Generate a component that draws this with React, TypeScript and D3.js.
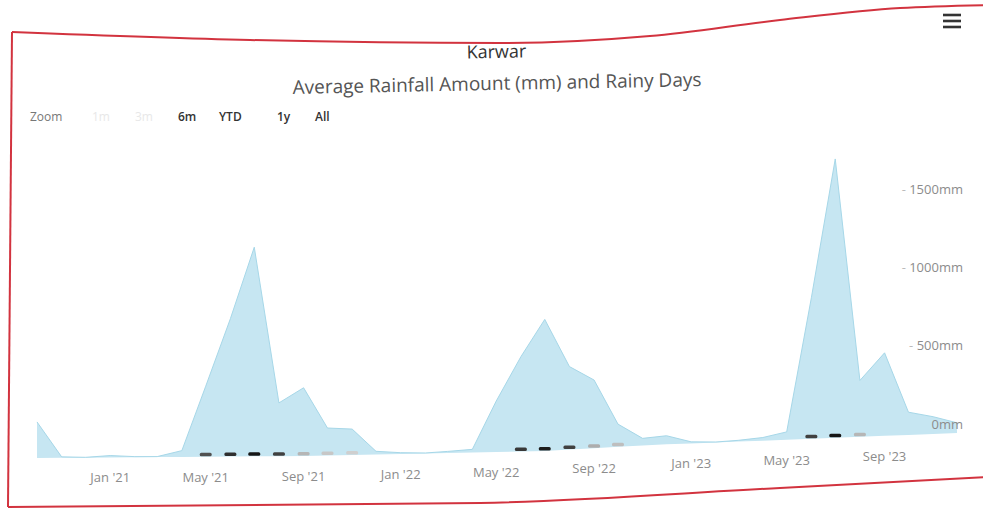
import React from 'react';
import * as d3 from 'd3';

// monthly data, Oct 2020 .. Dec 2023
const months = [
  '2020-10', '2020-11', '2020-12',
  '2021-01', '2021-02', '2021-03', '2021-04', '2021-05', '2021-06', '2021-07', '2021-08', '2021-09', '2021-10', '2021-11', '2021-12',
  '2022-01', '2022-02', '2022-03', '2022-04', '2022-05', '2022-06', '2022-07', '2022-08', '2022-09', '2022-10', '2022-11', '2022-12',
  '2023-01', '2023-02', '2023-03', '2023-04', '2023-05', '2023-06', '2023-07', '2023-08', '2023-09', '2023-10', '2023-11', '2023-12',
];

const rainfall = [
  230, 6, 2,
  12, 4, 3, 40, 450, 880, 1335, 340, 435, 175, 165, 20,
  8, 3, 10, 20, 325, 605, 840, 530, 435, 145, 45, 55,
  10, 3, 8, 20, 50, 900, 1780, 360, 530, 145, 110, 65,
];

const rainyDays = [
  0, 0, 0,
  0, 0, 0, 0, 22, 26, 29, 24, 10, 8, 7, 0,
  0, 0, 0, 0, 0, 25, 28, 24, 11, 9, 0, 0,
  0, 0, 0, 0, 0, 24, 29, 10, 0, 0, 0, 0,
];

const yTicks = [0, 500, 1000, 1500];
const rangeButtons = ['1m', '3m', '6m', 'YTD', '1y', 'All'];
const activeButtons = ['6m', 'YTD', '1y', 'All'];

const W = 983;
const H = 511;
const FONT = "'Open Sans', 'DejaVu Sans', sans-serif";

const parse = d3.timeParse('%Y-%m');

export default function App() {
  const data = months.map((m, i) => ({ date: parse(m) as Date, rain: rainfall[i], days: rainyDays[i] }));

  const x = d3.scaleTime()
    .domain([data[0].date, data[data.length - 1].date])
    .range([37, 957]);
  // the printed sheet is curled: zero line drifts up toward the right
  const baseAt = d3.scaleLinear()
    .domain([37, 300, 545, 650, 780, 957])
    .range([458, 456, 451, 445, 440, 433]);
  const k = d3.scaleLinear().domain([0, 1500]).range([0, 235]);
  const py = (xx: number, v: number) => baseAt(xx) - k(v);

  const area = d3.area<typeof data[0]>()
    .x(d => x(d.date))
    .y0(d => baseAt(x(d.date)))
    .y1(d => py(x(d.date), d.rain));
  const topLine = d3.line<typeof data[0]>()
    .x(d => x(d.date))
    .y(d => py(x(d.date), d.rain));

  const dayColor = d3.scaleLinear<string>()
    .domain([7, 29])
    .range(['#cfcfcf', '#161616']);

  const xTicks = x.ticks(d3.timeMonth.every(4) as any);
  const fmt = d3.timeFormat("%b '%y");

  // red printed frame around the chart (photo edge)
  const frameTop: [number, number][] = [[12, 32], [250, 40], [500, 43], [650, 36], [780, 20], [900, 8], [990, 5]];
  const frameBottom: [number, number][] = [[8, 507], [480, 503], [780, 488], [990, 477]];
  const frameLine = d3.line().curve(d3.curveMonotoneX);

  const buttonX = [92, 135, 178, 219, 277, 315];
  const labelX = 963;

  return (
    <svg width={W} height={H} style={{ position: 'absolute', left: 0, top: 0, background: '#fff' }}>
      <rect width={W} height={H} fill="#fff" />

      {/* frame */}
      <g fill="none" stroke="#d2333f" strokeWidth={2}>
        <path d={frameLine(frameTop) || ''} />
        <path d={frameLine(frameBottom) || ''} />
        <line x1={12} y1={32} x2={8} y2={507} />
      </g>

      {/* menu icon */}
      <g stroke="#333" strokeWidth={2.6}>
        {[15, 21, 27].map(v => <line key={v} x1={943} x2={961} y1={v} y2={v} />)}
      </g>

      {/* titles */}
      <g transform="rotate(-1.1, 497, 84)" fontFamily={FONT} textAnchor="middle">
        <text x={497} y={58} fontSize={18} fill="#333">Karwar</text>
        <text x={497} y={90} fontSize={19} fill="#555">Average Rainfall Amount (mm) and Rainy Days</text>
      </g>

      {/* range selector */}
      <g fontFamily={FONT} fontSize={12}>
        <text x={30} y={121} fill="#777">Zoom</text>
        {rangeButtons.map((b, i) => (
          <text key={b} x={buttonX[i]} y={121}
            fill={activeButtons.includes(b) ? '#333' : '#e8e8e8'}
            fontWeight={activeButtons.includes(b) ? 600 : 400}>{b}</text>
        ))}
      </g>

      {/* plot */}
      <g fontFamily={FONT}>
        <path d={area(data) || ''} fill="#c6e6f2" />
        <path d={topLine(data) || ''} fill="none" stroke="#a6d7e8" strokeWidth={1} />

        {data.filter(d => d.days > 0).map(d => (
          <rect key={d.date.toISOString()} x={x(d.date) - 6} y={baseAt(x(d.date)) - 4} width={12} height={3.5} rx={1.5}
            fill={dayColor(d.days)} />
        ))}

        {xTicks.map(t => (
          <text key={t.toISOString()} x={x(t)} y={baseAt(x(t)) + 25} textAnchor="middle" fontSize={13} fill="#8c8c8c">
            {fmt(t)}
          </text>
        ))}

        {yTicks.map(v => (
          <text key={v} x={labelX} y={py(940, v) - 5} textAnchor="end" fontSize={13} fill="#8c8c8c">
            {v > 0 && <tspan fill="#bbb">- </tspan>}
            {`${v}mm`}
          </text>
        ))}
      </g>
    </svg>
  );
}
